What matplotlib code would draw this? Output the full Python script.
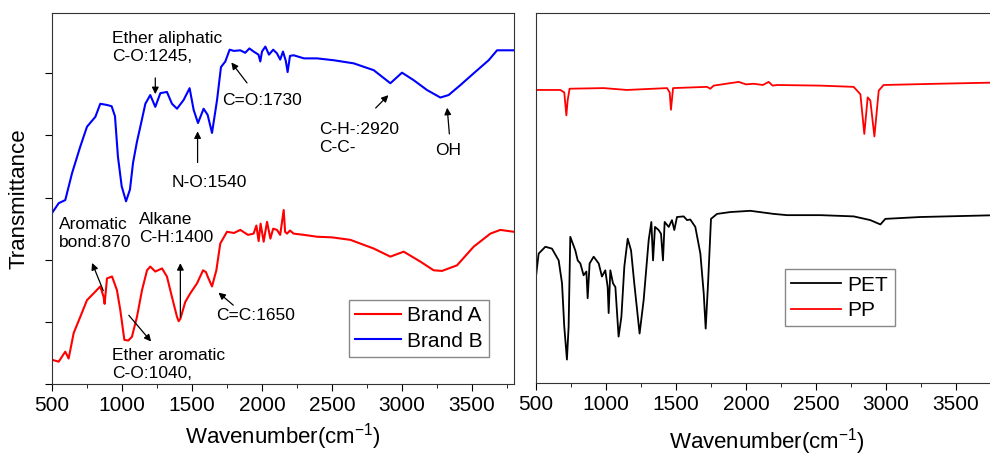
import matplotlib
matplotlib.use('Agg')
import matplotlib.pyplot as plt
from matplotlib.ticker import MultipleLocator

plt.rcParams['font.family'] = ['Liberation Sans', 'DejaVu Sans']
plt.rcParams['mathtext.default'] = 'regular'

# --- dados (numero de onda em cm-1, transmitancia em unidades arbitrarias) ---
brand_b_w = [500, 548, 595, 643, 702, 750, 810, 845, 893, 926, 950, 971, 998, 1029, 1057, 1079,
             1107, 1131, 1167, 1202, 1238, 1274, 1321, 1357, 1393, 1440, 1483, 1512, 1543, 1583,
             1612, 1643, 1679, 1707, 1738, 1769, 1800, 1845, 1880, 1910, 1940, 1975, 1988,
             2000, 2024, 2050, 2080, 2107, 2130, 2150, 2170, 2183, 2200, 2226, 2300, 2393,
             2512, 2655, 2798, 2917, 3000, 3083, 3179, 3274, 3333, 3417, 3512, 3619, 3679, 3798]
brand_b_t = [2.75, 2.91, 2.96, 3.39, 3.82, 4.14, 4.30, 4.51, 4.49, 4.47, 4.31, 3.66, 3.18, 2.94, 3.13, 3.56,
             3.90, 4.14, 4.51, 4.65, 4.46, 4.68, 4.70, 4.51, 4.43, 4.57, 4.76, 4.41, 4.20, 4.43,
             4.33, 4.04, 4.57, 5.10, 5.19, 5.38, 5.36, 5.37, 5.33, 5.40, 5.35, 5.30, 5.19,
             5.35, 5.43, 5.30, 5.38, 5.32, 5.22, 5.35, 5.20, 5.02, 5.28, 5.29, 5.24, 5.24,
             5.21, 5.16, 5.05, 4.84, 5.01, 4.89, 4.73, 4.61, 4.65, 4.81, 5.00, 5.21, 5.37, 5.37]

brand_a_w = [500, 548, 595, 619, 655, 702, 750, 798, 845, 869, 876, 893, 929, 964, 988, 1017,
             1045, 1071, 1107, 1143, 1179, 1202, 1238, 1286, 1321, 1357, 1393, 1405, 1417, 1452, 1488,
             1536, 1579, 1600, 1612, 1643, 1674, 1702, 1750, 1800, 1845, 1900, 1940, 1960, 1976,
             1990, 2012, 2036, 2060, 2080, 2107, 2130, 2155, 2165, 2179, 2200, 2226, 2300,
             2393, 2500, 2631, 2798, 2917, 3012, 3131, 3226, 3286, 3393, 3512, 3631, 3702, 3798]
brand_a_t = [0.39, 0.36, 0.52, 0.41, 0.82, 1.08, 1.35, 1.46, 1.57, 1.40, 1.29, 1.70, 1.73, 1.51, 1.19, 0.71,
             0.70, 0.76, 1.08, 1.51, 1.83, 1.89, 1.81, 1.86, 1.73, 1.40, 1.08, 1.01, 1.05, 1.32, 1.46,
             1.62, 1.83, 1.80, 1.73, 1.57, 1.83, 2.26, 2.45, 2.43, 2.48, 2.40, 2.42, 2.55, 2.30,
             2.58, 2.29, 2.61, 2.34, 2.50, 2.48, 2.40, 2.80, 2.45, 2.42, 2.47, 2.42, 2.40,
             2.37, 2.36, 2.32, 2.18, 2.05, 2.13, 1.97, 1.83, 1.82, 1.91, 2.21, 2.42, 2.48, 2.45]

pp_w = [500, 674, 702, 717, 726, 740, 983, 1150, 1436, 1455, 1464, 1479, 1721, 1745, 1769,
        1948, 2000, 2055, 2120, 2162, 2190, 2221, 2531, 2769, 2817, 2845, 2869, 2888, 2917,
        2948, 2983, 3364, 3800]
pp_t = [4.73, 4.73, 4.69, 4.32, 4.56, 4.75, 4.76, 4.73, 4.76, 4.69, 4.41, 4.76, 4.78, 4.75, 4.80,
        4.86, 4.82, 4.83, 4.81, 4.86, 4.80, 4.81, 4.80, 4.78, 4.66, 4.02, 4.61, 4.56, 3.98,
        4.72, 4.81, 4.83, 4.85]

pet_w = [500, 519, 567, 614, 662, 686, 702, 721, 733, 745, 781, 798, 817, 840, 860, 869, 883,
         912, 948, 971, 995, 1012, 1019, 1031, 1050, 1067, 1090, 1110, 1131, 1155, 1179, 1202,
         1240, 1269, 1305, 1324, 1336, 1350, 1376, 1393, 1407, 1419, 1448, 1471, 1488, 1507,
         1555, 1579, 1602, 1638, 1674, 1698, 1712, 1729, 1750, 1793, 1888, 2031, 2198, 2293,
         2531, 2769, 2888, 2960, 2995, 3245, 3800]
pet_t = [1.72, 2.09, 2.20, 2.17, 1.98, 1.61, 0.91, 0.38, 0.91, 2.36, 2.14, 1.98, 1.93, 1.74, 1.80, 1.37, 1.93,
         2.04, 1.93, 1.72, 1.82, 1.55, 1.13, 1.82, 1.61, 1.55, 0.75, 1.07, 1.88, 2.33, 2.14, 1.61,
         0.80, 1.34, 2.31, 2.60, 1.98, 2.52, 2.47, 2.41, 1.98, 2.60, 2.52, 2.63, 2.47, 2.68,
         2.69, 2.63, 2.64, 2.52, 2.09, 1.45, 0.88, 1.61, 2.65, 2.73, 2.76, 2.78, 2.73, 2.71,
         2.71, 2.69, 2.63, 2.56, 2.65, 2.68, 2.71]

# anotacoes: texto, posicao do texto, ponta da seta, origem da seta
anotacoes = [
    ('Ether aliphatic\nC-O:1245,', (929, 5.42), (1238, 4.62), (1238, 4.97)),
    ('C=O:1730', (1714, 4.57), (1769, 5.21), (1905, 4.81)),
    ('N-O:1540', (1357, 3.25), (1540, 4.11), (1540, 3.52)),
    ('C-H-:2920\nC-C-', (2405, 3.95), (2917, 4.68), (2798, 4.41)),
    ('OH', (3238, 3.76), (3321, 4.49), (3340, 3.98)),
    ('Aromatic\nbond:870', (548, 2.43), (779, 1.99), (874, 1.46)),
    ('Alkane\nC-H:1400', (1119, 2.50), (1417, 1.99), (1417, 1.03)),
    ('C=C:1650', (1674, 1.11), (1674, 1.50), (1810, 1.24)),
    ('Ether aromatic\nC-O:1040,', (929, 0.32), (1221, 0.65), (1036, 1.14)),
]

fig = plt.figure(figsize=(9.9, 4.55), dpi=100)
ax1 = fig.add_axes([0.0525, 0.156, 0.4667, 0.8154])
ax2 = fig.add_axes([0.5414, 0.158, 0.4667, 0.8132])

ax1.plot(brand_a_w, brand_a_t, color='red', lw=1.5, label='Brand A')
ax1.plot(brand_b_w, brand_b_t, color='blue', lw=1.5, label='Brand B')

for txt, pos, ponta, origem in anotacoes:
    ax1.text(pos[0], pos[1], txt, fontsize=12.5, ha='left', va='center', linespacing=1.25)
    ax1.annotate('', xy=ponta, xytext=origem,
                 arrowprops=dict(arrowstyle='-|>', color='k', lw=0.9, mutation_scale=10))

ax2.plot(pet_w, pet_t, color='black', lw=1.3, label='PET')
ax2.plot(pp_w, pp_t, color='red', lw=1.3, label='PP')

for ax in (ax1, ax2):
    ax.set_xlim(500, 3800)
    ax.set_ylim(0, 5.97)
    ax.xaxis.set_major_locator(MultipleLocator(500))
    ax.xaxis.set_minor_locator(MultipleLocator(250))
    ax.tick_params(axis='x', which='major', direction='out', length=5, labelsize=15)
    ax.tick_params(axis='x', which='minor', direction='out', length=3)
    ax.set_xlabel('Wavenumber(cm$^{-1}$)', fontsize=16)
    for s in ax.spines.values():
        s.set_color('#333333')

ax1.xaxis.set_label_coords(0.5, -0.10)
ax2.xaxis.set_label_coords(0.5, -0.115)

ax1.yaxis.set_major_locator(MultipleLocator(1))
ax1.set_yticklabels([])
ax1.tick_params(axis='y', direction='out', length=5)
ax1.set_ylabel('Transmittance', fontsize=16, labelpad=8)
ax2.set_yticks([])

leg1 = ax1.legend(loc='lower right', bbox_to_anchor=(0.946, 0.073), fontsize=15, fancybox=False,
                  edgecolor='#888888', framealpha=1, handlelength=2.2, handletextpad=0.3,
                  borderpad=0.3, labelspacing=0.3, borderaxespad=0)
leg2 = ax2.legend(loc='lower left', bbox_to_anchor=(0.539, 0.154), fontsize=15, fancybox=False,
                  edgecolor='#888888', framealpha=1, handlelength=2.4, handletextpad=0.3,
                  borderpad=0.3, labelspacing=0.3, borderaxespad=0)

plt.savefig('out.png', dpi=100)
print("out.png salvo")
